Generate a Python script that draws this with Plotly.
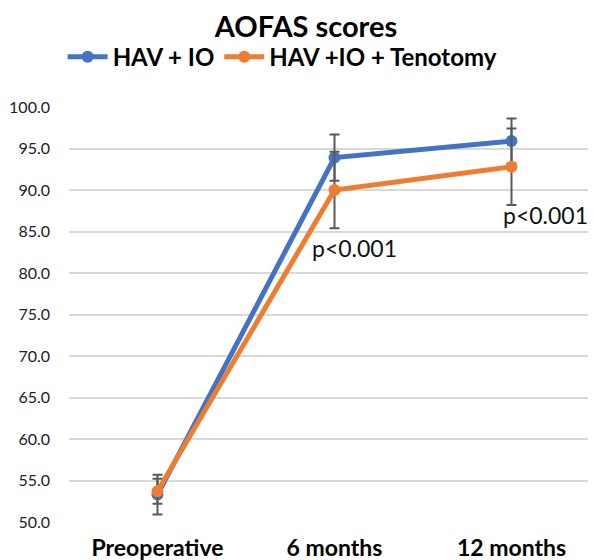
import plotly.graph_objects as go

categories = ["Preoperative", "6 months", "12 months"]
hav_io = [53.3, 93.9, 95.9]
hav_io_err = [2.4, 2.8, 2.7]
hav_io_ten = [53.7, 90.0, 92.8]
hav_io_ten_err = [1.5, 4.6, 4.6]
y_ticks = [50, 55, 60, 65, 70, 75, 80, 85, 90, 95, 100]
y_tick_labels = ["50.0", "55.0", "60.0", "65.0", "70.0", "75.0", "80.0", "85.0", "90.0", "95.0", "100.0"]
p_labels = ["p<0.001", "p<0.001"]
p_cats = ["6 months", "12 months"]
p_vals = [83.0, 87.0]

FONT = "Lato"
BLUE = "#4472C4"
ORANGE = "#ED7D31"
ERR = "#595959"

fig = go.Figure()
fig.add_trace(go.Scatter(
    x=categories, y=hav_io, name="<b>HAV + IO</b>", mode="lines+markers",
    line=dict(color=BLUE, width=5), marker=dict(color=BLUE, size=12),
    error_y=dict(type="data", array=hav_io_err, color=ERR, thickness=2, width=5),
))
fig.add_trace(go.Scatter(
    x=categories, y=hav_io_ten, name="<b>HAV +IO + Tenotomy</b>", mode="lines+markers",
    line=dict(color=ORANGE, width=5), marker=dict(color=ORANGE, size=12),
    error_y=dict(type="data", array=hav_io_ten_err, color=ERR, thickness=2, width=5),
))

for txt, c, v, dx in zip(p_labels, p_cats, p_vals, [20, 34]):
    fig.add_annotation(x=c, y=v, text=txt, showarrow=False, xshift=dx,
                       font=dict(family=FONT, size=23, color="#111111"))

fig.update_layout(
    width=596, height=560,
    margin=dict(l=61, r=4, t=99, b=46),
    paper_bgcolor="white", plot_bgcolor="white",
    title=dict(text="<b>AOFAS scores</b>", x=0.5, xanchor="center", y=0.966, yanchor="middle",
               font=dict(family=FONT, size=29, color="#000000")),
    legend=dict(orientation="h", x=-0.012, xanchor="left", y=1.12, yanchor="middle",
                font=dict(family=FONT, size=24, color="#000000"), itemwidth=40,
                bgcolor="rgba(0,0,0,0)"),
    showlegend=True,
    font=dict(family=FONT),
)
fig.update_xaxes(type="category", range=[-0.5, 2.5], showgrid=False, showline=False,
                 zeroline=False, ticks="", automargin=False, ticklabelstandoff=10,
                 tickfont=dict(family=FONT, size=23, color="#000000"),
                 tickvals=categories, ticktext=["<b>%s</b>" % c for c in categories])
fig.update_yaxes(range=[50, 100], tickvals=y_ticks, ticktext=y_tick_labels,
                 showgrid=True, gridcolor="#D9D9D9", gridwidth=1.5, zeroline=False,
                 showline=False, ticks="", ticklen=0, automargin=False, ticklabelstandoff=18,
                 tickfont=dict(family=FONT, size=16, color="#222222"))

fig.write_html("out.html")
